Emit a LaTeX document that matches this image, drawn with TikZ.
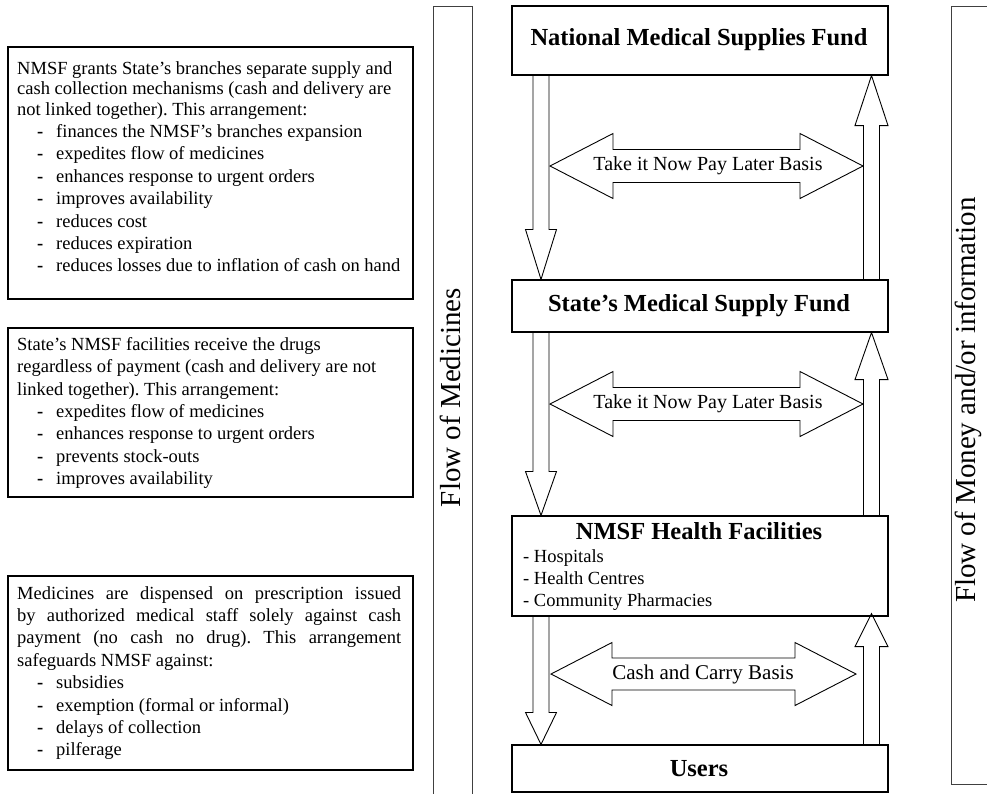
\documentclass[tikz,border=0pt]{standalone}
\usepackage{fontspec}
\setmainfont{Liberation Serif}
\usetikzlibrary{calc}
\frenchspacing
\newcommand\itm[1]{\hspace*{20pt}\makebox[19pt][l]{\textbf{-}}#1}
\newcommand\fatdown[3]{%
  \draw[fatarrow] let \p1=(#1), \p2=(#2) in
    (\x1-8pt,\y1) -- (\x1-8pt,\y2+#3) -- (\x1-15.5pt,\y2+#3) -- (\x2,\y2)
    -- (\x1+15.5pt,\y2+#3) -- (\x1+8pt,\y2+#3) -- (\x1+8pt,\y1);}
\newcommand\fatup[3]{%
  \draw[fatarrow] let \p1=(#1), \p2=(#2) in
    (\x1-8pt,\y1) -- (\x1-8pt,\y2-#3) -- (\x1-16.5pt,\y2-#3) -- (\x2,\y2)
    -- (\x1+16.5pt,\y2-#3) -- (\x1+8pt,\y2-#3) -- (\x1+8pt,\y1);}
\newcommand\dblarrow[6]{%
  \draw[fatarrow] (#1,#3) -- (#1+#4,#3-#6) -- (#1+#4,#3-#5) -- (#2-#4,#3-#5)
    -- (#2-#4,#3-#6) -- (#2,#3) -- (#2-#4,#3+#6) -- (#2-#4,#3+#5)
    -- (#1+#4,#3+#5) -- (#1+#4,#3+#6) -- cycle;}
\begin{document}
\begin{tikzpicture}[x=1pt,y=-1pt,
  box/.style={draw, line width=1.1pt, minimum width=376pt, inner sep=0pt},
  txtbox/.style={draw, line width=1.1pt, minimum width=405pt, inner sep=0pt},
  title/.style={font=\fontsize{24.5}{28}\selectfont\bfseries, inner sep=0pt},
  body/.style={font=\fontsize{18.5}{22.4}\selectfont, align=left, inner sep=0pt, anchor=north west},
  fatarrow/.style={draw, line width=0.9pt, line join=miter},
  bar/.style={draw=black!75, line width=0.9pt},
  side/.style={font=\fontsize{29}{32}\selectfont, rotate=90, inner sep=0pt},
  mid/.style={font=\fontsize{20}{24}\selectfont, inner sep=0pt}]
\useasboundingbox (0,0) rectangle (987,793);

% side bars
\draw[bar] (433,800) -- (433,6) -- (472,6) -- (472,800);
\node[side] (fom) at (450,397.5) {Flow of Medicines};
\draw[bar] (1000,6) -- (951,6) -- (951,784) -- (1000,784);
\node[side] (fmi) at (968,400) {Flow of Money and/or information};

% left text boxes
\node[txtbox, minimum height=252pt] (b1) at (210.5,173) {};
\node[body] (b1t) at (17,61) {NMSF grants State’s branches separate supply and\\[-1.9pt]
cash collection mechanisms (cash and delivery are\\[-1.9pt]
not linked together). This arrangement:\\
\itm{finances the NMSF’s branches expansion}\\
\itm{expedites flow of medicines}\\
\itm{enhances response to urgent orders}\\
\itm{improves availability}\\
\itm{reduces cost}\\
\itm{reduces expiration}\\
\itm{reduces losses due to inflation of cash on hand}};

\node[txtbox, minimum height=169pt] (b2) at (210.5,412.5) {};
\node[body] (b2t) at (17,337) {State’s NMSF facilities receive the drugs\\
regardless of payment (cash and delivery are not\\
linked together). This arrangement:\\
\itm{expedites flow of medicines}\\
\itm{enhances response to urgent orders}\\
\itm{prevents stock-outs}\\
\itm{improves availability}};

\node[txtbox, minimum height=194pt] (b3) at (210.5,673) {};
\node[body] (b3t) at (17,586) {\makebox[384pt][s]{Medicines are dispensed on prescription issued}\\
\makebox[384pt][s]{by authorized medical staff solely against cash}\\
\makebox[384pt][s]{payment (no cash no drug). This arrangement}\\
safeguards NMSF against:\\
\itm{subsidies}\\
\itm{exemption (formal or informal)}\\
\itm{delays of collection}\\
\itm{pilferage}};

% central boxes
\node[box, minimum height=69pt] (nmsf) at (700,40.5) {};
\node[title] (nmsft) at (699,40) {National Medical Supplies Fund};
\node[box, minimum height=52pt] (smsf) at (700,306) {};
\node[title] (smsft) at (699,306) {State’s Medical Supply Fund};
\node[box, minimum height=100pt] (hf) at (700,566) {};
\node[title] (hft) at (699,531) {NMSF Health Facilities};
\node[body] (hfl) at (523,549) {- Hospitals\\- Health Centres\\- Community Pharmacies};
\node[box, minimum height=47pt] (users) at (700,768.5) {};
\node[title] (userst) at (699,769) {Users};

% vertical fat arrows
\coordinate (dx) at (541,0);
\coordinate (ux) at (871.5,0);
\fatdown{dx |- nmsf.south}{dx |- smsf.north}{50pt}
\fatdown{dx |- smsf.south}{dx |- hf.north}{44pt}
\fatdown{dx |- hf.south}{dx |- users.north}{32pt}
\fatup{ux |- smsf.north}{ux |- nmsf.south}{50pt}
\fatup{ux |- hf.north}{ux |- smsf.south}{47pt}
\fatup{ux |- users.north}{$(ux |- hf.south)+(0,-3)$}{33pt}

% horizontal double arrows
\dblarrow{550}{863}{166}{63}{16.5}{32.5}
\node[mid] (t1) at (708,166) {Take it Now Pay Later Basis};
\dblarrow{550}{863}{404}{63}{16.5}{32.5}
\node[mid] (t2) at (708,404) {Take it Now Pay Later Basis};
\dblarrow{551}{856}{674}{61}{16}{31.5}
\node[mid, font=\fontsize{21}{24}\selectfont] (t3) at (703,674) {Cash and Carry Basis};
\end{tikzpicture}
\end{document}
